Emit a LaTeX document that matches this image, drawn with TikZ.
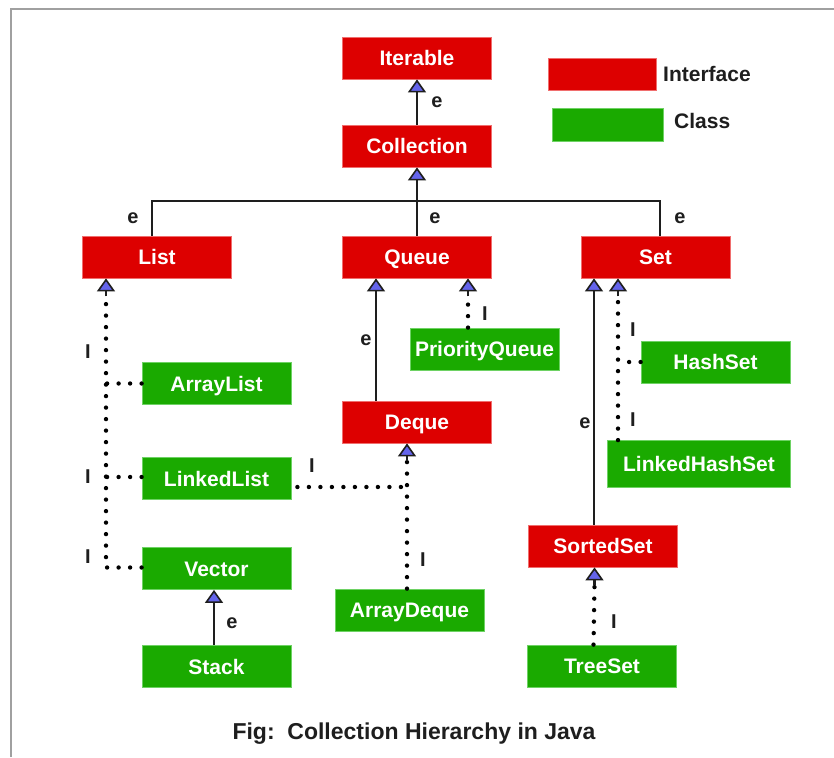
\documentclass[tikz,border=0pt]{standalone}
\usepackage{fontspec}
\setmainfont{Liberation Sans}
\usetikzlibrary{arrows.meta}
\definecolor{ifred}{RGB}{221,0,0}
\definecolor{clgreen}{RGB}{26,170,0}
\definecolor{tipblue}{RGB}{100,100,235}
\definecolor{ink}{RGB}{30,30,30}
\definecolor{frame}{RGB}{160,160,160}
\begin{document}
\begin{tikzpicture}[x=1pt,y=-1pt,
  box/.style={minimum width=149pt,minimum height=42pt,inner sep=0pt,text=white,
    font=\fontsize{21}{21}\selectfont\bfseries,line width=0.8pt,text height=15pt,text depth=0pt},
  iface/.style={box,fill=ifred,draw={rgb,255:red,240;green,110;blue,110}},
  cls/.style={box,fill=clgreen,draw={rgb,255:red,110;green,210;blue,100}},
  lbl/.style={text=ink,font=\fontsize{20}{20}\selectfont\bfseries,inner sep=0pt},
  plain/.style={draw=ink,line width=2.3pt},
  ext/.style={draw=ink,line width=2.3pt,-{Triangle[width=18pt,length=13pt,fill=tipblue,line width=1.6pt]}},
  impl/.style={draw=black,line width=4.4pt,line cap=round,dash pattern=on 0pt off 11.5pt}
]
\useasboundingbox (0,0) rectangle (834,757);
\fill[white] (0,0) rectangle (834,757);
\draw[frame,line width=2.5pt] (11,757) -- (11,9) -- (834,9);

% interfaces
\node[iface] (Iterable) at (417,58) {Iterable};
\node[iface] (Collection) at (417,146) {Collection};
\node[iface] (List) at (157,257) {List};
\node[iface] (Queue) at (417,257) {Queue};
\node[iface] (Set) at (655.5,257) {Set};
\node[iface] (Deque) at (417,422) {Deque};
\node[iface] (SortedSet) at (603,546) {SortedSet};
% classes
\node[cls] (ArrayList) at (216.5,383.5) {ArrayList};
\node[cls] (LinkedList) at (216.5,478.5) {LinkedList};
\node[cls] (Vector) at (216.5,568.5) {Vector};
\node[cls] (Stack) at (216.5,666.5) {Stack};
\node[cls] (PQ) at (484.5,349) {PriorityQueue};
\node[cls] (ArrayDeque) at (409.5,610) {ArrayDeque};
\node[cls] (HashSet) at (715.5,362) {HashSet};
\node[cls,minimum width=183pt,minimum height=47pt] (LinkedHashSet) at (699,464) {LinkedHashSet};
\node[cls] (TreeSet) at (602,666) {TreeSet};

% legend
\node[iface,minimum width=108pt,minimum height=32pt] (legI) at (602,74) {};
\node[cls,minimum width=111pt,minimum height=33pt] (legC) at (607.5,124.5) {};
\node[lbl,font=\fontsize{21}{21}\selectfont\bfseries,anchor=west] (legIt) at (663,74) {Interface};
\node[lbl,font=\fontsize{21}{21}\selectfont\bfseries,anchor=west] (legCt) at (674,121) {Class};

% extends (solid)
\draw[ext] (Collection.north) -- (Iterable.south);
\coordinate (bar) at (417,201);
\draw[plain] ([xshift=-5pt]List.north) |- (bar) -| ([xshift=4.5pt]Set.north);
\draw[ext] (Queue.north) -- (Collection.south);
\draw[ext] ([xshift=-41pt]Deque.north) -- ([xshift=-41pt]Queue.south);
\draw[ext] ([xshift=-2.5pt]Stack.north) -- ([xshift=-2.5pt]Vector.south);
\draw[ext] ([xshift=-9pt]SortedSet.north) -- ([xshift=-61.5pt]Set.south);

% implements (dotted)
% List group
\coordinate (lst) at ([xshift=-51pt]List.south);
\coordinate (lstS) at ([yshift=-18pt]lst);
\draw[impl] ([yshift=1pt]Vector.west) -| (lstS);
\draw[impl] (ArrayList.west) -- (ArrayList.west -| lst);
\draw[impl] ([yshift=1.5pt]LinkedList.west) -- ([yshift=1.5pt]LinkedList.west -| lst);
\draw[ext] (lstS) -- (lst);
% PriorityQueue
\coordinate (pqt) at ([xshift=-16.5pt]PQ.north);
\coordinate (qpt) at ([xshift=51pt]Queue.south);
\coordinate (qptS) at ([yshift=-18pt]qpt);
\draw[impl] (pqt) -- (qptS);
\draw[ext] (qptS) -- (qpt);
% ArrayDeque and LinkedList to Deque
\coordinate (adq) at ([xshift=-2.5pt]ArrayDeque.north);
\coordinate (dqs) at ([xshift=-10pt]Deque.south);
\coordinate (dqsS) at ([yshift=-18pt]dqs);
\draw[impl] (adq) -- (dqsS);
\draw[ext] (dqsS) -- (dqs);
\coordinate (lle) at ([yshift=-8.5pt]LinkedList.east);
\draw[impl] ([xshift=6pt]lle) -- (lle -| adq);
% Set group
\coordinate (lhs) at ([xshift=-81pt]LinkedHashSet.north);
\coordinate (sst) at ([xshift=-37.5pt]Set.south);
\coordinate (sstS) at ([yshift=-18pt]sst);
\draw[impl] (lhs) -- (sstS);
\draw[ext] (sstS) -- (sst);
\draw[impl] (HashSet.west) -- (HashSet.west -| lhs);
% TreeSet
\coordinate (tst) at ([xshift=-8.5pt]TreeSet.north);
\coordinate (sos) at ([xshift=-8.5pt]SortedSet.south);
\coordinate (sosS) at ([yshift=-18pt]sos);
\draw[impl] (tst) -- (sosS);
\draw[ext] (sosS) -- (sos);

% labels
\node[lbl] (e1) at (437,102) {e};
\node[lbl] (e2) at (133,218) {e};
\node[lbl] (e3) at (435,218) {e};
\node[lbl] (e4) at (680,218) {e};
\node[lbl] (e5) at (366,340) {e};
\node[lbl] (e6) at (232,623) {e};
\node[lbl] (e7) at (585,423) {e};
\node[lbl] (i1) at (88,352) {I};
\node[lbl] (i2) at (88,477) {I};
\node[lbl] (i3) at (88,557) {I};
\node[lbl] (i4) at (485,314) {I};
\node[lbl] (i5) at (312,466) {I};
\node[lbl] (i6) at (423,560) {I};
\node[lbl] (i7) at (633,330) {I};
\node[lbl] (i8) at (633,420) {I};
\node[lbl] (i9) at (614,622) {I};

% caption
\node[text=ink,font=\fontsize{23}{23}\selectfont\bfseries,anchor=base,inner sep=0pt] (cap) at (414,739) {Fig:\ \ Collection Hierarchy in Java};
\end{tikzpicture}
\end{document}
